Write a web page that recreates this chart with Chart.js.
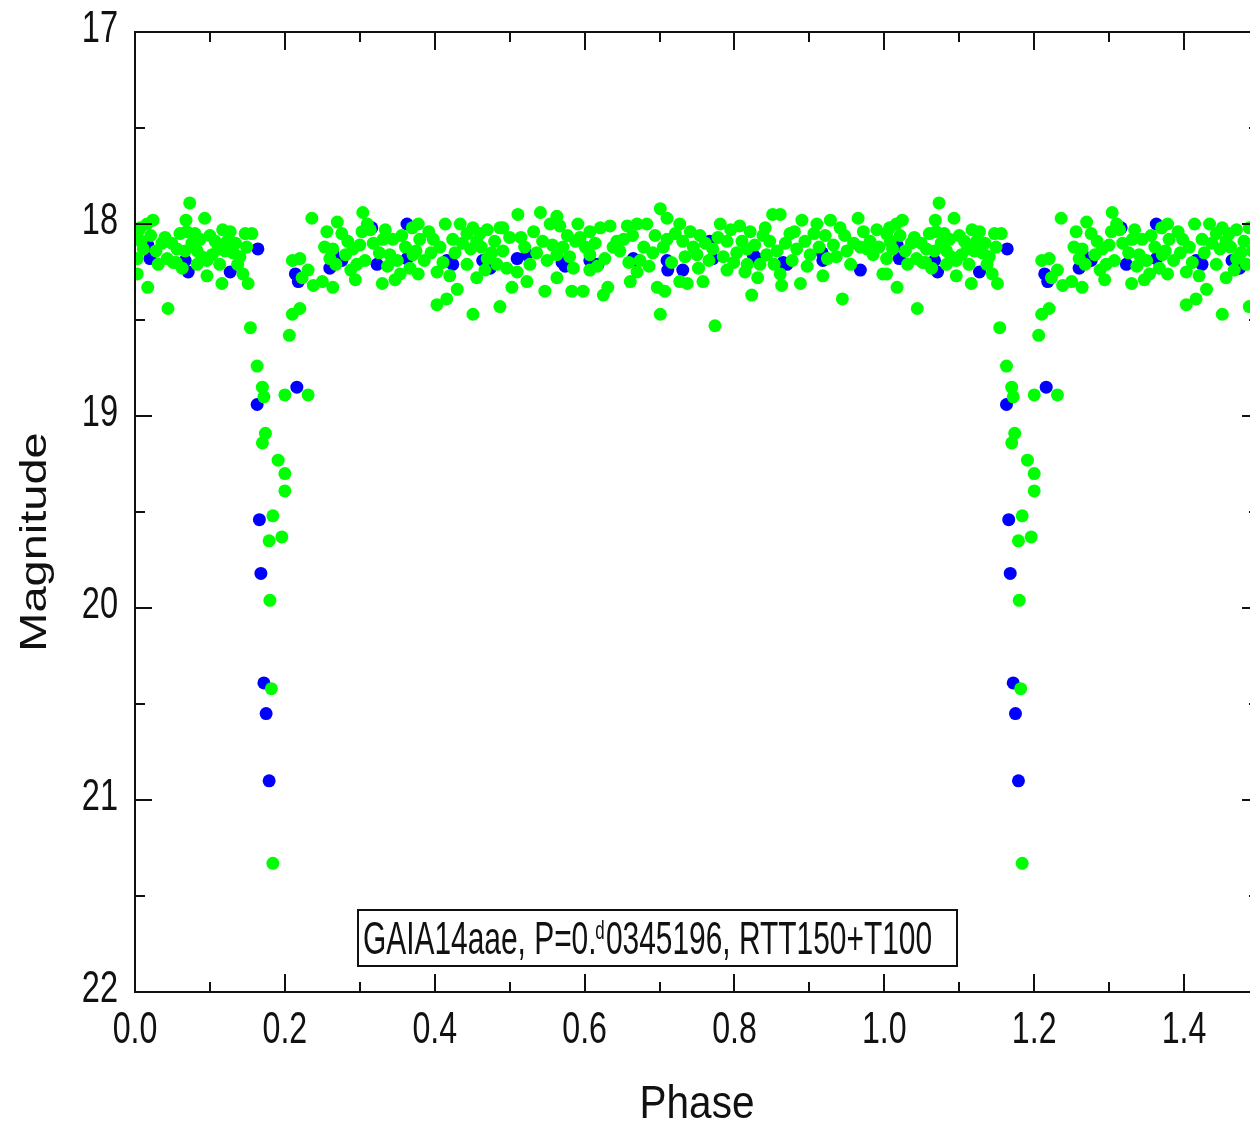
<!DOCTYPE html>
<html>
<head>
<meta charset="utf-8">
<script src="https://cdn.jsdelivr.net/npm/chart.js@4.4.1/dist/chart.umd.min.js"></script>
<style>
html, body { margin: 0; padding: 0; background: #fff; overflow: hidden; width: 1250px; height: 1127px; }
#wrap { width: 1280px; height: 1127px; }
</style>
</head>
<body>
<div id="wrap"><canvas id="lc" width="1280" height="1127"></canvas></div>
<script>
// ==================== DATA (phase, magnitude) ====================
// green = one telescope, blue = the other; phase 0..1, drawn twice (0..1.5)
const greenBand = [
    [0.073,17.89],[0.068,17.98],[0.093,17.97],[0.024,17.98],[0.016,18.00],[0.007,18.02],[0.003,18.05],[0.011,18.13],
    [0.003,18.18],[0.003,18.26],[0.017,18.33],[0.044,18.44],[0.040,18.07],[0.049,18.10],[0.060,18.05],[0.069,18.04],
    [0.080,18.05],[0.056,18.13],[0.067,18.14],[0.083,18.14],[0.089,18.17],[0.031,18.21],[0.051,18.20],[0.063,18.23],
    [0.083,18.21],[0.096,18.27],[0.100,18.06],[0.107,18.09],[0.117,18.03],[0.127,18.04],[0.111,18.13],[0.120,18.14],
    [0.131,18.15],[0.096,18.19],[0.116,18.31],[0.137,18.21],[0.144,18.26],[0.151,18.31],[0.147,18.05],[0.156,18.05],
    [0.149,18.12],
    [0.008,18.09],[0.021,18.06],[0.028,18.14],[0.036,18.10],[0.043,18.18],[0.055,18.20],[0.076,18.10],[0.087,18.08],
    [0.103,18.16],[0.113,18.21],[0.123,18.09],[0.134,18.10],[0.140,18.17],
    [0.236,17.97],[0.210,18.19],[0.220,18.18],[0.223,18.28],[0.238,18.32],[0.231,18.24],[0.250,18.30],[0.264,18.33],
    [0.256,18.04],[0.270,17.99],[0.276,18.05],[0.284,18.09],[0.264,18.13],[0.260,18.18],[0.291,18.13],[0.296,18.21],
    [0.294,18.29],[0.304,17.94],[0.310,18.00],[0.303,18.04],[0.314,18.03],[0.334,18.03],[0.331,18.08],[0.330,18.31],
    [0.347,18.29],[0.340,18.16],[0.354,18.26],[0.356,18.06],[0.370,18.02],[0.378,18.00],[0.380,18.08],[0.371,18.16],
    [0.378,18.26],[0.403,18.42],[0.416,18.39],[0.430,18.34],[0.403,18.25],[0.420,18.27],[0.398,18.08],[0.414,18.00],
    [0.434,18.00],[0.424,18.08],[0.443,18.05],[0.451,18.02],[0.456,18.09],[0.470,18.03],[0.443,18.21],[0.456,18.28],
    [0.476,18.15],[0.451,18.47],[0.487,18.43],[0.491,18.02],[0.500,18.07],[0.496,18.23],[0.503,18.33],[0.511,17.95],
    [0.253,18.12],[0.268,18.21],[0.281,18.16],[0.288,18.24],[0.300,18.11],[0.307,18.19],[0.318,18.10],[0.326,18.15],
    [0.337,18.22],[0.344,18.08],[0.350,18.19],[0.361,18.12],[0.367,18.23],[0.375,18.14],[0.386,18.19],[0.392,18.04],
    [0.395,18.15],[0.407,18.12],[0.411,18.20],[0.427,18.15],[0.437,18.10],[0.448,18.13],[0.462,18.12],[0.467,18.24],
    [0.480,18.09],[0.483,18.21],
    [0.460,18.05],[0.487,18.02],[0.541,17.94],[0.563,17.96],[0.554,18.00],[0.567,18.01],[0.591,18.00],[0.577,18.06],
    [0.594,18.07],[0.607,18.04],[0.621,18.02],[0.634,18.01],[0.643,18.09],[0.657,18.01],[0.670,18.00],[0.683,18.00],
    [0.701,17.92],[0.710,17.97],[0.727,18.00],[0.741,18.04],[0.754,18.06],[0.781,18.00],[0.807,18.01],[0.821,18.04],
    [0.838,18.06],[0.851,17.95],[0.861,17.95],[0.847,18.09],[0.874,18.05],[0.890,17.98],[0.910,18.00],[0.928,17.98],
    [0.941,18.02],[0.965,17.97],[0.990,18.03],
    [0.523,18.30],[0.547,18.35],[0.563,18.28],[0.583,18.35],[0.598,18.35],[0.625,18.37],[0.631,18.33],[0.607,18.24],
    [0.661,18.30],[0.670,18.25],[0.701,18.47],[0.697,18.33],[0.707,18.35],[0.727,18.30],[0.737,18.31],[0.758,18.30],
    [0.774,18.53],[0.790,18.24],[0.823,18.37],[0.831,18.28],[0.817,18.21],[0.861,18.26],[0.863,18.32],[0.888,18.31],
    [0.918,18.27],[0.944,18.39],[0.977,18.13],[0.998,18.26],
    [0.470,18.18],[0.491,18.14],[0.510,18.25],[0.527,18.21],[0.550,18.19],[0.563,18.16],[0.585,18.23],[0.607,18.16],
    [0.627,18.18],[0.647,18.14],[0.674,18.19],[0.691,18.15],[0.710,18.08],[0.731,18.09],[0.750,18.16],[0.771,18.13],
    [0.790,18.09],[0.803,18.15],[0.817,18.13],[0.843,18.16],[0.857,18.14],[0.883,18.13],[0.901,18.16],[0.924,18.18],
    [0.932,18.11],[0.950,18.14],[0.968,18.12],[0.985,18.16],
    [0.515,18.07],[0.520,18.12],[0.532,18.04],[0.536,18.15],[0.544,18.09],[0.557,18.11],[0.571,18.12],[0.580,18.17],
    [0.588,18.09],[0.601,18.12],[0.614,18.10],[0.617,18.22],[0.638,18.12],[0.652,18.08],[0.659,18.20],[0.664,18.06],
    [0.679,18.12],[0.686,18.22],[0.694,18.06],[0.705,18.12],[0.716,18.20],[0.721,18.05],[0.734,18.17],[0.745,18.12],
    [0.752,18.23],[0.761,18.10],[0.766,18.19],[0.778,18.07],[0.785,18.17],[0.795,18.03],[0.799,18.20],[0.810,18.09],
    [0.814,18.25],[0.827,18.11],[0.834,18.21],[0.841,18.02],[0.853,18.21],[0.868,18.10],[0.877,18.19],[0.880,18.04],
    [0.894,18.09],[0.897,18.22],[0.906,18.05],[0.913,18.12],[0.921,18.06],[0.936,18.17],[0.947,18.06],[0.955,18.21],
    [0.959,18.10],[0.972,18.04],[0.981,18.09],[0.993,18.12]
];
const greenEclipse = [
    [0.154,18.54],[0.163,18.74],[0.170,18.85],[0.172,18.90],[0.200,18.89],[0.231,18.89],[0.174,19.09],[0.170,19.14],
    [0.191,19.23],[0.200,19.30],[0.200,19.39],[0.184,19.52],[0.179,19.65],[0.196,19.63],[0.180,19.96],[0.182,20.42],
    [0.184,21.33],[0.220,18.44],[0.210,18.47],[0.206,18.58]
];
const blueBand = [
    [0.017,18.11],[0.020,18.18],[0.067,18.19],[0.071,18.25],[0.127,18.25],[0.164,18.13],[0.214,18.26],[0.218,18.30],
    [0.264,18.15],[0.276,18.19],[0.260,18.23],[0.316,18.02],[0.323,18.21],[0.363,18.00],[0.363,18.18],[0.416,18.19],
    [0.424,18.21],[0.464,18.19],[0.474,18.23],[0.510,18.18],[0.523,18.16],[0.570,18.20],[0.574,18.22],[0.607,18.19],
    [0.618,18.21],[0.665,18.18],[0.670,18.19],[0.710,18.19],[0.711,18.24],[0.731,18.24],[0.767,18.09],[0.771,18.18],
    [0.825,18.16],[0.830,18.18],[0.865,18.20],[0.870,18.21],[0.917,18.15],[0.918,18.19],[0.968,18.24]
];
const blueEclipse = [
    [0.216,18.85],[0.163,18.94],[0.166,19.54],[0.168,19.82],[0.172,20.39],[0.175,20.55],[0.179,20.90]
];

const xTickValues = [0.0, 0.2, 0.4, 0.6, 0.8, 1.0, 1.2, 1.4];
const xMinorTicks = [0.1, 0.3, 0.5, 0.7, 0.9, 1.1, 1.3, 1.5];
const yTickValues = [17, 18, 19, 20, 21, 22];
const yMinorTicks = [17.5, 18.5, 19.5, 20.5, 21.5];

const xMin = 0, xMax = 1.5;
const yMin = 17, yMax = 22;
const xTitle = 'Phase';
const yTitle = 'Magnitude';
const noteParts = ['GAIA14aae, P=0.', 'd', '0345196, RTT150+T100'];

// ==================== STYLE ====================
const inkColor = '#111111';
const plainFont = "'Liberation Sans', Arial, sans-serif";

// every phase point is shown once more one cycle later, as in the folded plot
function twoCycles(points) {
    const out = [];
    points.forEach(p => {
        out.push({ x: p[0], y: p[1] });
        if (p[0] + 1 <= xMax) out.push({ x: p[0] + 1, y: p[1] });
    });
    return out;
}

// the original uses a horizontally squeezed Arial-like face
function squeezedText(ctx, text, x, y, size, sx, align) {
    ctx.save();
    ctx.translate(x, y);
    ctx.scale(sx, 1);
    ctx.font = size + 'px ' + plainFont;
    ctx.fillStyle = inkColor;
    ctx.textAlign = align;
    ctx.textBaseline = 'alphabetic';
    ctx.fillText(text, 0, 0);
    ctx.restore();
}

// frame, inward ticks, tick labels, titles and the caption box
const framePlugin = {
    id: 'frame',
    afterDatasetsDraw(chart) {
        const { ctx, chartArea: a, scales: { x, y } } = chart;
        ctx.save();
        ctx.strokeStyle = inkColor;
        ctx.lineWidth = 2;
        ctx.strokeRect(a.left, a.top, a.right - a.left, a.bottom - a.top);

        ctx.beginPath();
        const xTick = (v, len) => {
            const px = Math.round(x.getPixelForValue(v));
            ctx.moveTo(px, a.bottom); ctx.lineTo(px, a.bottom - len);
            ctx.moveTo(px, a.top); ctx.lineTo(px, a.top + len);
        };
        const yTick = (v, len) => {
            const py = Math.round(y.getPixelForValue(v));
            ctx.moveTo(a.left, py); ctx.lineTo(a.left + len, py);
            ctx.moveTo(a.right, py); ctx.lineTo(a.right - len, py);
        };
        xTickValues.forEach(v => xTick(v, 18));
        xMinorTicks.forEach(v => xTick(v, 10));
        yTickValues.forEach(v => yTick(v, 17));
        yMinorTicks.forEach(v => yTick(v, 10));
        ctx.stroke();
        ctx.restore();
    },
    afterDraw(chart) {
        const { ctx, chartArea: a, scales: { x, y } } = chart;

        // tick labels at the scale's own tick positions
        x.ticks.forEach(t => {
            squeezedText(ctx, t.value.toFixed(1), x.getPixelForValue(t.value), a.bottom + 51, 44, 0.73, 'center');
        });
        y.ticks.forEach(t => {
            squeezedText(ctx, String(t.value), a.left - 17, y.getPixelForValue(t.value) + 10, 44, 0.74, 'right');
        });

        // x title
        squeezedText(ctx, xTitle, (a.left + a.right) / 2, 1118, 46, 0.88, 'center');

        // y title (sits a bit below the middle of the axis in the original)
        ctx.save();
        ctx.fillStyle = inkColor;
        ctx.translate(46, (a.top + a.bottom) / 2 + 30);
        ctx.rotate(-Math.PI / 2);
        ctx.scale(1, 0.8);
        ctx.font = '47px ' + plainFont;
        ctx.textAlign = 'center';
        ctx.textBaseline = 'alphabetic';
        ctx.fillText(yTitle, 0, 0);
        ctx.restore();

        // caption box
        ctx.save();
        ctx.strokeStyle = inkColor;
        ctx.lineWidth = 2;
        ctx.strokeRect(358, 910, 599, 56);
        ctx.fillStyle = inkColor;
        ctx.translate(363, 954);
        ctx.scale(0.65, 1);
        ctx.textBaseline = 'alphabetic';
        ctx.font = '46px ' + plainFont;
        let cx = 0;
        ctx.fillText(noteParts[0], cx, 0);
        cx += ctx.measureText(noteParts[0]).width;
        ctx.font = '26px ' + plainFont;
        ctx.fillText(noteParts[1], cx - 2, -15);
        cx += ctx.measureText(noteParts[1]).width;
        ctx.font = '46px ' + plainFont;
        ctx.fillText(noteParts[2], cx, 0);
        ctx.restore();
    }
};

const lcChart = new Chart(document.getElementById('lc'), {
    type: 'scatter',
    data: {
        datasets: [
            {
                label: 'green',
                data: twoCycles(greenBand.concat(greenEclipse)),
                backgroundColor: '#00ff00',
                borderWidth: 0,
                pointRadius: 6.5,
                pointHoverRadius: 6.5,
                clip: 0
            },
            {
                label: 'blue',
                data: twoCycles(blueBand.concat(blueEclipse)),
                backgroundColor: '#0000ff',
                borderWidth: 0,
                pointRadius: 6.5,
                pointHoverRadius: 6.5,
                clip: 0
            }
        ]
    },
    options: {
        responsive: false,
        animation: false,
        devicePixelRatio: 1,
        layout: { padding: { left: 0, right: 21, top: 32, bottom: 0 } },
        plugins: {
            legend: { display: false },
            tooltip: { enabled: false }
        },
        scales: {
            x: {
                type: 'linear',
                min: xMin,
                max: xMax,
                grid: { display: false, drawTicks: false },
                border: { display: false },
                afterBuildTicks: s => { s.ticks = xTickValues.map(v => ({ value: v })); },
                afterFit: s => { s.height = 135; s.paddingLeft = 0; s.paddingRight = 0; },
                ticks: { display: false }
            },
            y: {
                type: 'linear',
                min: yMin,
                max: yMax,
                reverse: true,
                grid: { display: false, drawTicks: false },
                border: { display: false },
                afterBuildTicks: s => { s.ticks = yTickValues.map(v => ({ value: v })); },
                afterFit: s => { s.width = 135; s.paddingTop = 0; s.paddingBottom = 0; },
                ticks: { display: false }
            }
        }
    },
    plugins: [framePlugin]
});
</script>
</body>
</html>
